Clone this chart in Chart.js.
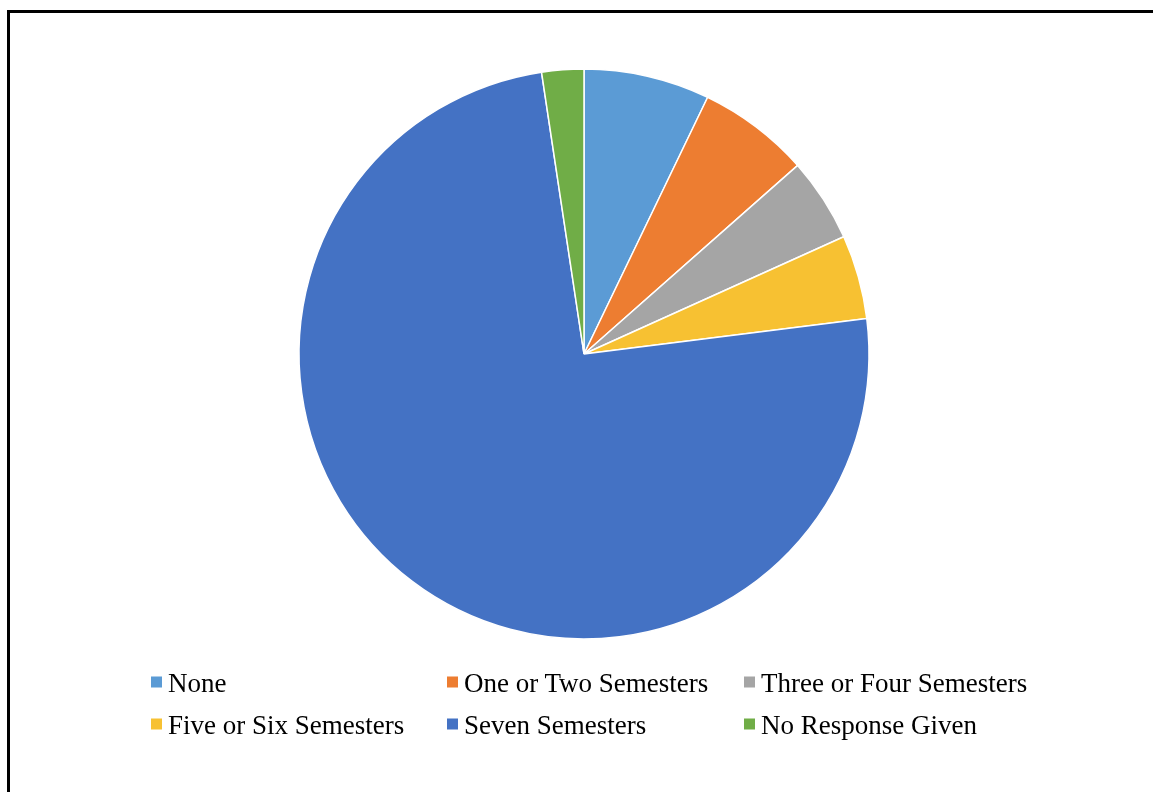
<!DOCTYPE html>
<html>
<head>
<meta charset="utf-8">
<script src="https://cdn.jsdelivr.net/npm/chart.js@4/dist/chart.umd.min.js"></script>
<style>
    html, body { margin: 0; padding: 0; background: #fff; overflow: hidden; }
    #frame {
        position: absolute; left: 7px; top: 10px; width: 1200px; height: 900px;
        border-left: 3px solid #000; border-top: 3px solid #000;
    }
    #wrap { position: absolute; left: 0; top: 0; width: 1153px; height: 708px; }
    #legend { position: absolute; left: 0; top: 0; width: 1153px; height: 792px; pointer-events: none; }
    .item {
        position: absolute; display: flex; align-items: center;
        font-family: "Liberation Serif", "Times New Roman", serif; font-size: 27px; color: #000;
        white-space: nowrap; transform: translateY(-50%);
    }
    .box { width: 11px; height: 11px; margin-right: 6px; margin-top: -3px; }
</style>
</head>
<body>
<div id="frame"></div>
<div id="wrap"><canvas id="pieChart"></canvas></div>
<div id="legend"></div>
<script>
    // Data
    const categories = ['None', 'One or Two Semesters', 'Three or Four Semesters',
        'Five or Six Semesters', 'Seven Semesters', 'No Response Given'];
    const responses = [9, 8, 6, 6, 94, 3];
    const colors = ['#5B9BD5', '#ED7D31', '#A5A5A5', '#F7C132', '#4472C4', '#70AD47'];

    // Legend grid positions (3 columns, 2 rows)
    const legendCols = [151, 447, 744];
    const legendRows = [683, 725];

    const ctx = document.getElementById('pieChart').getContext('2d');
    const pieChart = new Chart(ctx, {
        type: 'pie',
        data: {
            labels: categories,
            datasets: [{
                data: responses,
                backgroundColor: colors,
                borderColor: '#ffffff',
                borderWidth: 1.5
            }]
        },
        options: {
            responsive: true,
            maintainAspectRatio: false,
            animation: false,
            radius: 285,
            layout: { padding: { left: 15 } },
            plugins: {
                legend: { display: false },
                tooltip: { enabled: false }
            }
        }
    });

    // HTML legend built from the chart's own labels
    const legendEl = document.getElementById('legend');
    const items = pieChart.options.plugins.legend.labels.generateLabels(pieChart);
    items.forEach((it, i) => {
        const div = document.createElement('div');
        div.className = 'item';
        div.style.left = legendCols[i % 3] + 'px';
        div.style.top = legendRows[Math.floor(i / 3)] + 'px';
        const box = document.createElement('span');
        box.className = 'box';
        box.style.background = it.fillStyle;
        div.appendChild(box);
        div.appendChild(document.createTextNode(it.text));
        legendEl.appendChild(div);
    });
</script>
</body>
</html>
